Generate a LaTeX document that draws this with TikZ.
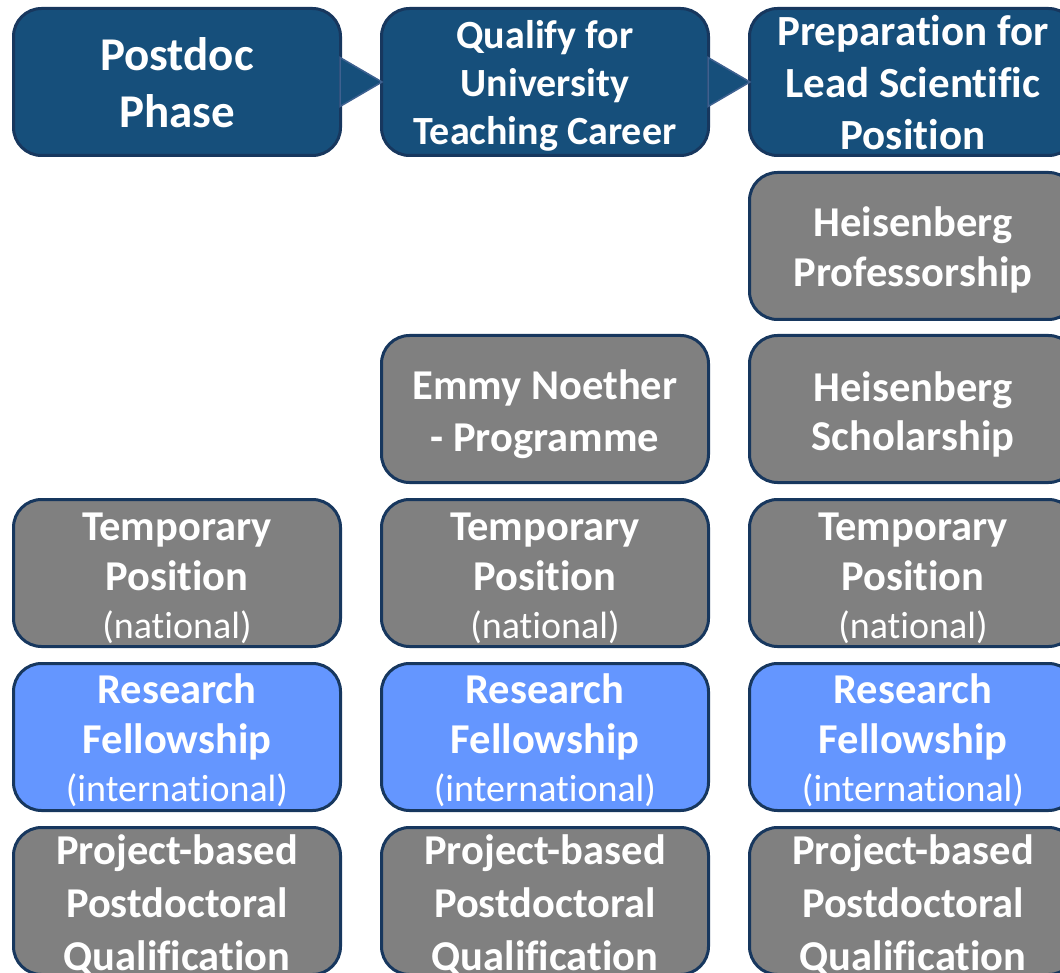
\documentclass[tikz,border=0pt]{standalone}
\usepackage{fontspec}
\setmainfont{Carlito}[Ligatures=NoCommon]
\definecolor{hdr}{HTML}{164F7B}
\definecolor{edgec}{HTML}{17375E}
\definecolor{gry}{HTML}{808080}
\definecolor{lblue}{HTML}{6496FF}
\definecolor{tric}{HTML}{3E6190}
\begin{document}
\begin{tikzpicture}[x=1pt,y=-1pt,
  box/.style={draw=edgec, line width=3pt, rounded corners=28pt, minimum width=327pt, minimum height=147pt, inner sep=0pt},
  boxhead/.style={box, fill=hdr},
  boxgray/.style={box, fill=gry},
  boxblue/.style={box, fill=lblue},
  txt/.style={text=white, align=center, anchor=base, inner sep=0pt, font=\fontsize{42.5}{50}\selectfont\bfseries},
  arrowtri/.style={fill=hdr, draw=tric, line width=1.5pt, line join=miter}
]
\useasboundingbox (0,0) rectangle (1060,973);
\clip (0,0) rectangle (1060,973);
% header row
\node[boxhead] (h1) at (177,82) {};
\node[boxhead] (h2) at (545,82) {};
\node[boxhead] (h3) at (913,82) {};
% row 2
\node[boxgray] (r2c3) at (913,246) {};
% row 3
\node[boxgray] (r3c2) at (545,409) {};
\node[boxgray] (r3c3) at (913,409) {};
% row 4
\node[boxgray] (r4c1) at (177,573) {};
\node[boxgray] (r4c2) at (545,573) {};
\node[boxgray] (r4c3) at (913,573) {};
% row 5
\node[boxblue] (r5c1) at (177,737) {};
\node[boxblue] (r5c2) at (545,737) {};
\node[boxblue] (r5c3) at (913,737) {};
% row 6
\node[boxgray] (r6c1) at (177,901) {};
\node[boxgray] (r6c2) at (545,901) {};
\node[boxgray] (r6c3) at (913,901) {};
% arrows
\draw[arrowtri] ([xshift=-2pt,yshift=-24.5pt]h1.east) -- ([xshift=-2pt,yshift=24.5pt]h1.east) -- ([xshift=2pt]h2.west) -- cycle;
\draw[arrowtri] ([xshift=-2pt,yshift=-24.5pt]h2.east) -- ([xshift=-2pt,yshift=24.5pt]h2.east) -- ([xshift=2pt]h3.west) -- cycle;
% texts (anchor = baseline of the last line)
\node[txt, font=\fontsize{47}{57}\selectfont\bfseries] (th1) at (177,128) {Postdoc\\Phase};
\node[txt, font=\fontsize{40}{48}\selectfont\bfseries] (th2) at (545,145) {Qualify for\\University\\Teaching Career};
\node[txt, font=\fontsize{43}{52}\selectfont\bfseries] (th3) at (913,150) {Preparation for\\Lead Scientific\\Position};
\node[txt] (t2c3) at (913,287) {Heisenberg\\Professorship};
\node[txt, font=\fontsize{42.5}{52}\selectfont\bfseries] (t3c2) at (545,451) {Emmy Noether\\- Programme};
\node[txt, font=\fontsize{42.5}{49}\selectfont\bfseries] (t3c3) at (913,450) {Heisenberg\\Scholarship};
\foreach \x/\n in {177/1,545/2,913/3}{
  \node[txt] (t4c\n) at (\x,638) {Temporary\\Position\\[-2pt]{\mdseries\fontsize{38}{38}\selectfont (national)}};
  \node[txt] (t5c\n) at (\x,801) {Research\\Fellowship\\[-2pt]{\mdseries\fontsize{38}{38}\selectfont (international)}};
  \node[txt, font=\fontsize{42.5}{53}\selectfont\bfseries] (t6c\n) at (\x,970) {Project-based\\Postdoctoral\\Qualification};
}
\end{tikzpicture}
\end{document}
